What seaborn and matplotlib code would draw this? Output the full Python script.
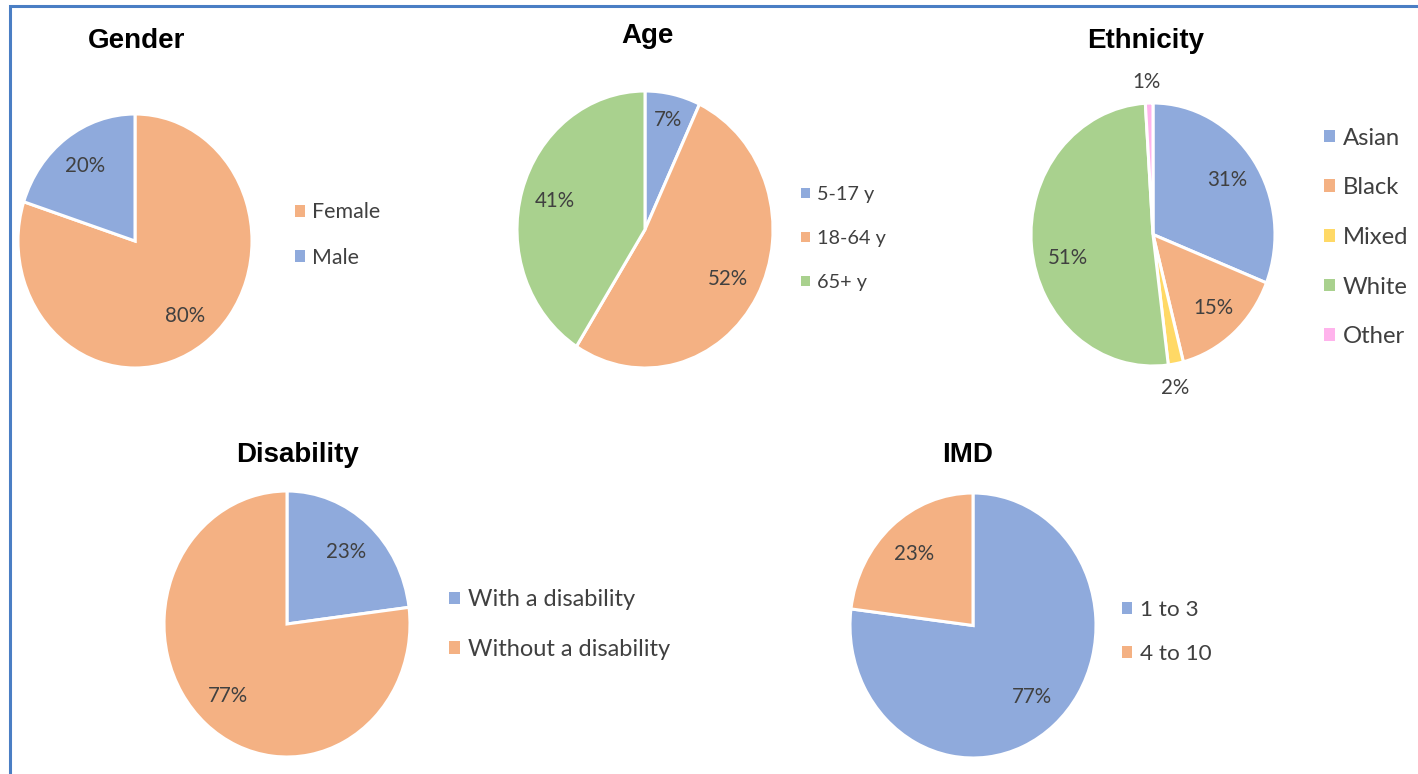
import matplotlib
matplotlib.use("Agg")
import matplotlib.pyplot as plt
from matplotlib.patches import Patch, Rectangle
import numpy as np
import seaborn as sns

# data
gender_labels = ["Female", "Male"]
gender_values = [80, 20]

age_labels = ["5-17 y", "18-64 y", "65+ y"]
age_values = [7, 52, 41]

eth_labels = ["Asian", "Black", "Mixed", "White", "Other"]
eth_values = [31, 15, 2, 51, 1]

dis_labels = ["With a disability", "Without a disability"]
dis_values = [23, 77]

imd_labels = ["1 to 3", "4 to 10"]
imd_values = [77, 23]

BLUE = "#8FAADC"
ORANGE = "#F4B183"
GREEN = "#A9D18E"
YELLOW = "#FFD966"
PINK = "#FFB3EC"
TEXT = "#404040"

sns.set_theme(style="white")
plt.rcParams["font.family"] = ["Lato", "DejaVu Sans"]

W, H = 1418, 774
fig = plt.figure(figsize=(W / 100, H / 100), dpi=100)

# frame line (left + top only visible)
fig.add_artist(Rectangle((10 / W, -0.1), 1.2, 1 - 6 / H + 0.1, transform=fig.transFigure,
                         fill=False, edgecolor="#4A7EC4", lw=2.2))


def draw_pie(title, labels, values, colors, center, rx, ry, title_xy, leg_x, leg_y, leg_gap,
             leg_size, pct_size=14.8, pct_dist=0.73, dists=None, nudge=None, title_size=20):
    cx, cy = center
    # the source image is slightly stretched vertically, so the pies are ellipses
    ax = fig.add_axes([(cx - rx) / W, (H - cy - ry) / H, 2 * rx / W, 2 * ry / H])
    wedges, _ = ax.pie(values, colors=colors, startangle=90, counterclock=False,
                       wedgeprops=dict(edgecolor="white", linewidth=2.2))
    ax.set_aspect("auto")
    ax.set_xlim(-1, 1)
    ax.set_ylim(-1, 1)
    ax.axis("off")
    for i, (w, v) in enumerate(zip(wedges, values)):
        d = dists[i] if dists else pct_dist
        ang = (w.theta1 + w.theta2) / 2 + (nudge[i] if nudge else 0)
        ang = np.deg2rad(ang)
        ax.text(d * np.cos(ang), d * np.sin(ang), f"{v}%", ha="center", va="center",
                fontsize=pct_size, color=TEXT, clip_on=False)
    fig.text(title_xy[0] / W, 1 - title_xy[1] / H, title, ha="center", va="center",
             fontsize=title_size, fontweight="bold", color="black",
             family=["Liberation Sans", "DejaVu Sans"])
    handles = [Patch(facecolor=c, edgecolor="none") for c in colors]
    fs_px = leg_size * 100 / 72
    n = len(labels)
    mid_y = leg_y + leg_gap * (n - 1) / 2 + 2
    fig.legend(handles, labels, loc="center left",
               bbox_to_anchor=(leg_x / W, 1 - mid_y / H), bbox_transform=fig.transFigure,
               frameon=False, fontsize=leg_size, labelcolor=TEXT,
               handlelength=0.45, handleheight=0.45, handletextpad=0.35,
               borderpad=0, borderaxespad=0,
               labelspacing=(leg_gap - fs_px * 0.88) / fs_px)


draw_pie("Gender", gender_labels, gender_values, [ORANGE, BLUE], (135, 241), 117, 127,
         (137, 41), 295, 211, 44, 15.4)
draw_pie("Age", age_labels, age_values, [BLUE, ORANGE, GREEN], (645, 229.5), 128, 138.5,
         (648, 36), 801, 192, 44.5, 14.3, dists=[0.81, 0.74, 0.73])
draw_pie("Ethnicity", eth_labels, eth_values, [BLUE, ORANGE, YELLOW, GREEN, PINK],
         (1153, 234.5), 122, 131.5, (1146, 41), 1324, 136, 49.7, 17.2,
         dists=[0.74, 0.75, 1.18, 0.72, 1.16], nudge=[0, 0, -2, 9, 0.7])
draw_pie("Disability", dis_labels, dis_values, [BLUE, ORANGE], (287, 624), 123, 133,
         (297, 455), 449, 598, 49, 17, pct_dist=0.72)
draw_pie("IMD", imd_labels, imd_values, [BLUE, ORANGE], (973, 625.5), 123, 132.5,
         (968, 455), 1122, 608, 44, 16.2, pct_dist=0.72)

fig.savefig("out.png", dpi=100, facecolor="white")
